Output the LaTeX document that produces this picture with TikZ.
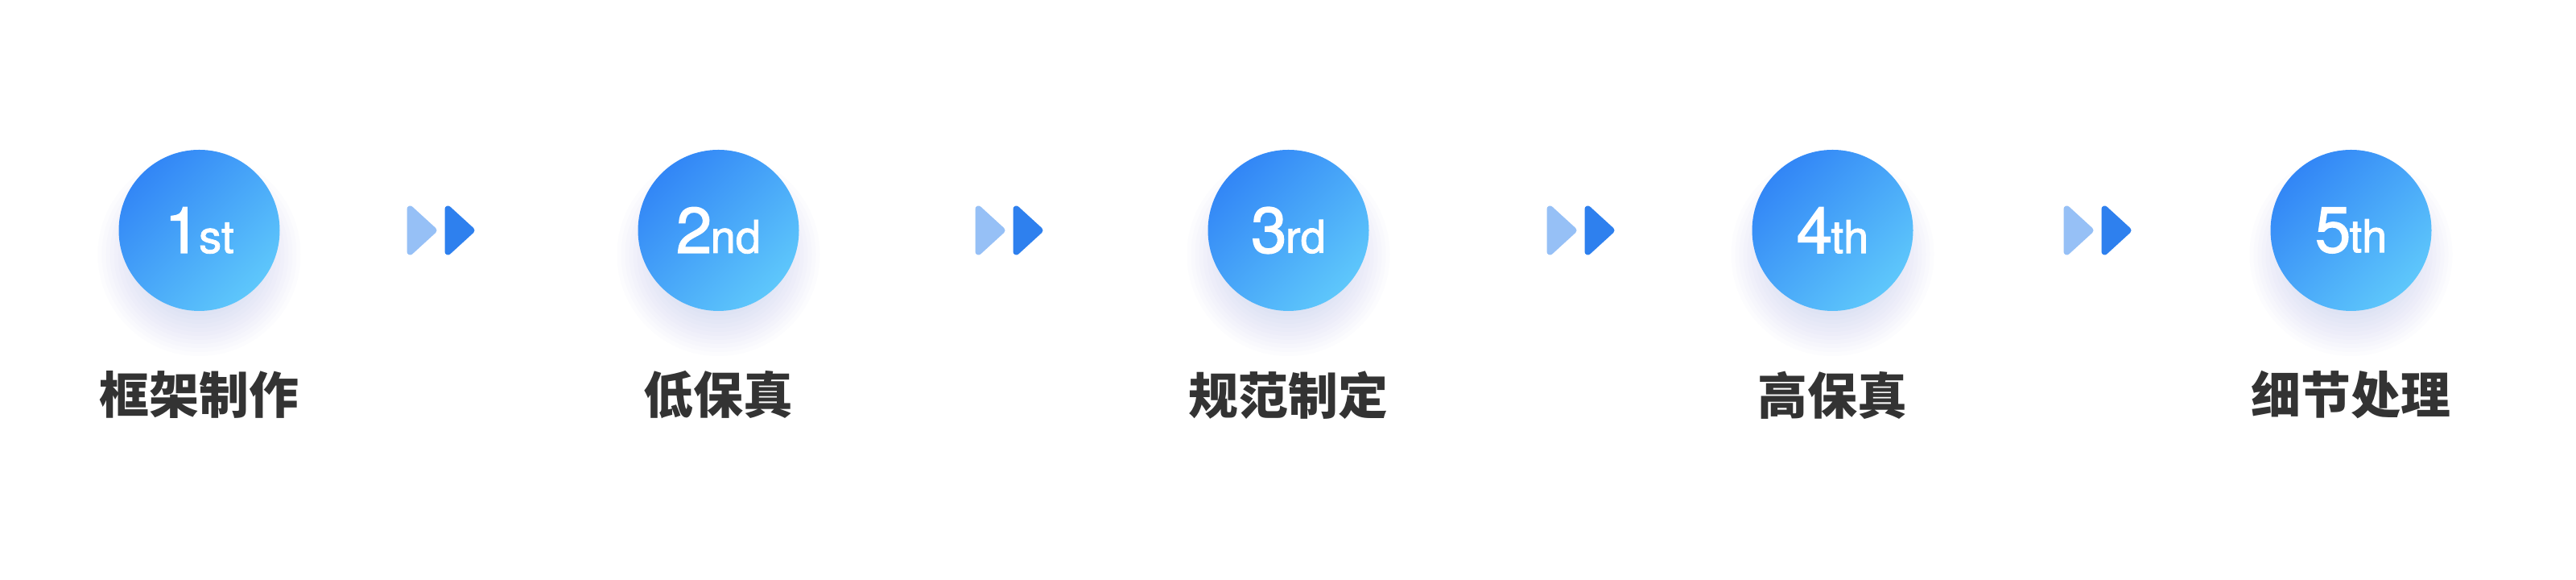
\documentclass[tikz,border=0pt]{standalone}
\usepackage{fontspec}
\newfontfamily\cjk{Noto Sans CJK SC}
\newfontfamily\numfont[FakeBold=1.6]{TeX Gyre Heros}
\usepackage{tikz}
\usetikzlibrary{positioning,backgrounds}

\definecolor{stepdark}{RGB}{50,134,246}
\definecolor{steplight}{RGB}{94,199,251}
\definecolor{arrowpale}{RGB}{150,192,246}
\definecolor{arrowdeep}{RGB}{46,128,238}
\definecolor{glowblue}{RGB}{80,112,238}
\definecolor{labelgray}{RGB}{51,51,51}

\newcommand{\ordinal}[2]{{\fontsize{22.8}{24}\selectfont #1}\kern-0.5pt{\fontsize{16}{18}\selectfont #2}}
\newcommand{\tipfill}[2]{\filldraw[#2, line width=0.08cm, line join=round] (#1.north west) -- (#1.east) -- (#1.south west) -- cycle;}

\begin{document}
\begin{tikzpicture}[
  stepnode/.style={circle, minimum size=2cm, inner sep=0pt, outer sep=0pt, shading=axis,
      top color=stepdark, bottom color=steplight, shading angle=45, text=white, font=\numfont},
  labelnode/.style={inner sep=0pt, text=labelgray, font=\cjk\bfseries\fontsize{17.6}{20}\selectfont},
  tipbox/.style={rectangle, minimum width=0.29cm, minimum height=0.53cm, inner sep=0pt, outer sep=0pt},
]
  \useasboundingbox (0,0) rectangle (32,7.2);

  % steps
  \node (step1) [stepnode] at (2.475,4.34) {\ordinal{1}{st}};
  \node (step2) [stepnode, right=4.45cm of step1] {\ordinal{2}{nd}};
  \node (step3) [stepnode, right=5.08cm of step2] {\ordinal{3}{rd}};
  \node (step4) [stepnode, right=4.76cm of step3] {\ordinal{4}{th}};
  \node (step5) [stepnode, right=4.44cm of step4] {\ordinal{5}{th}};

  \node (lab1) [labelnode, below=0.74cm of step1] {框架制作};
  \node (lab2) [labelnode, below=0.74cm of step2] {低保真};
  \node (lab3) [labelnode, below=0.74cm of step3] {规范制定};
  \node (lab4) [labelnode, below=0.74cm of step4] {高保真};
  \node (lab5) [labelnode, below=0.74cm of step5] {细节处理};

  % double arrows between steps
  \node (arr1a) [tipbox, right=1.62cm of step1] {};
  \node (arr1b) [tipbox, right=0.18cm of arr1a] {};
  \node (arr2a) [tipbox, right=2.23cm of step2] {};
  \node (arr2b) [tipbox, right=0.18cm of arr2a] {};
  \node (arr3a) [tipbox, right=2.25cm of step3] {};
  \node (arr3b) [tipbox, right=0.18cm of arr3a] {};
  \node (arr4a) [tipbox, right=1.91cm of step4] {};
  \node (arr4b) [tipbox, right=0.18cm of arr4a] {};
  \tipfill{arr1a}{arrowpale} \tipfill{arr1b}{arrowdeep}
  \tipfill{arr2a}{arrowpale} \tipfill{arr2b}{arrowdeep}
  \tipfill{arr3a}{arrowpale} \tipfill{arr3b}{arrowdeep}
  \tipfill{arr4a}{arrowpale} \tipfill{arr4b}{arrowdeep}

  % glow under the circles
  \begin{scope}[on background layer]
    \fill[white] (0,0) rectangle (32,7.2);
    \foreach \s in {step1,step2,step3,step4,step5}
      \foreach \r in {0.66,0.71,...,1.30}
        \fill[glowblue, opacity=0.016] ([yshift=-0.3cm]\s.center) circle (\r);
  \end{scope}
\end{tikzpicture}
\end{document}
